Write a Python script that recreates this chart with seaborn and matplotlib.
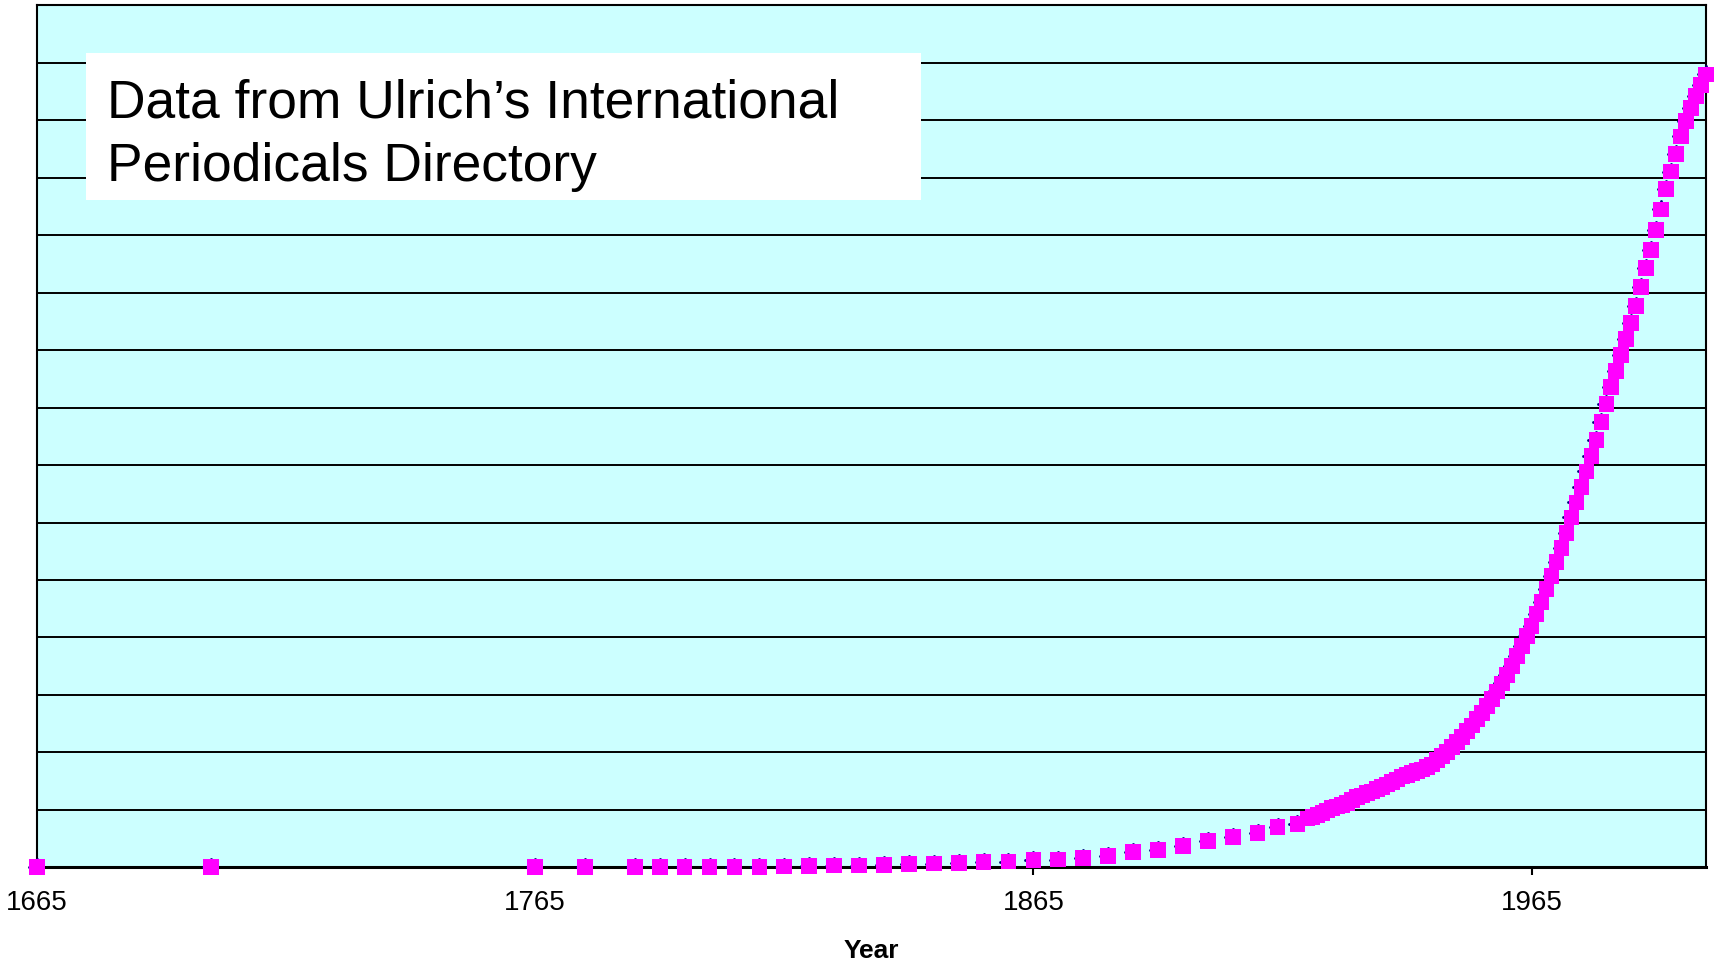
import numpy as np
import pandas as pd
import seaborn as sns
import matplotlib
matplotlib.use("Agg")
import matplotlib.pyplot as plt
from matplotlib.patches import Rectangle
from matplotlib.transforms import offset_copy

# Number of periodicals (thousands)
years_early = [1665, 1700, 1765, 1775, 1785, 1790, 1795, 1800, 1805, 1810, 1815,
               1820, 1825, 1830, 1835, 1840, 1845, 1850, 1855, 1860, 1865, 1870,
               1875, 1880, 1885, 1890, 1895, 1900, 1905, 1910, 1914, 1918]
counts_early = [0.001, 0.002, 0.005, 0.01, 0.02, 0.03, 0.04, 0.05, 0.07, 0.09, 0.12,
                0.25, 0.3, 0.3, 0.4, 0.6, 0.65, 0.7, 0.95, 1.0, 1.3, 1.35,
                1.65, 2.0, 2.6, 3.0, 3.65, 4.6, 5.3, 6.0, 7.0, 7.5]

years_late = list(range(1920, 2001))
counts_late = [8.5, 8.8, 9.1, 9.5, 9.9, 10.3, 10.6, 10.9, 11.2, 11.7,
               12.2, 12.5, 12.9, 13.2, 13.6, 14.0, 14.4, 14.9, 15.3, 15.8,
               16.1, 16.4, 16.7, 17.0, 17.4, 17.9, 18.7, 19.4, 20.1, 20.9,
               21.8, 22.7, 23.7, 24.7, 25.8, 26.9, 28.1, 29.3, 30.6, 32.0,
               33.5, 35.0, 36.8, 38.5, 40.2, 42.0, 44.1, 46.2, 48.4, 50.7,
               53.1, 55.6, 58.2, 60.9, 63.5, 66.2, 68.9, 71.6, 74.4, 77.5,
               80.6, 83.6, 86.4, 89.2, 92.0, 94.7, 97.7, 101.0, 104.3, 107.5,
               110.9, 114.5, 118.0, 121.1, 124.2, 127.2, 129.9, 132.1, 134.3, 136.2,
               138.0]

x_ticks = [1665, 1765, 1865, 1965]
y_grid = list(range(10, 150, 10))
note_lines = ["Data from Ulrich\u2019s International", "Periodicals Directory"]

df = pd.DataFrame({"Year": years_early + years_late,
                   "Periodicals": counts_early + counts_late})

sns.set_style("white")
plt.rcParams['font.family'] = ['Liberation Sans', 'DejaVu Sans']
plt.rcParams['text.color'] = 'black'
plt.rcParams['axes.labelcolor'] = 'black'
plt.rcParams['xtick.color'] = 'black'
plt.rcParams['xtick.labelcolor'] = 'black'

fig = plt.figure(figsize=(17.17, 9.63), dpi=100)
ax = fig.add_axes([0.0215, 0.0994, 0.9721, 0.8949])
ax.set_facecolor('#CCFFFF')

# horizontal grid
for g in y_grid:
    ax.axhline(g, color='black', lw=1.4, zorder=1)

# little navy specks peeking out of each marker
up = offset_copy(ax.transData, fig=fig, x=0, y=8, units='dots')
left = offset_copy(ax.transData, fig=fig, x=-8, y=0, units='dots')
ax.scatter(df["Year"], df["Periodicals"], s=4, color='#000080', marker='o',
           transform=up, zorder=3, clip_on=False, linewidths=0)
ax.scatter(df["Year"], df["Periodicals"], s=4, color='#000080', marker='o',
           transform=left, zorder=3, clip_on=False, linewidths=0)

sns.scatterplot(data=df, x="Year", y="Periodicals", marker='s', s=128,
                color='#FF00FF', edgecolor='none', ax=ax, zorder=4,
                clip_on=False, legend=False)

ax.set_xlim(1665, 2000)
ax.set_ylim(0, 150)
ax.set_xticks(x_ticks)
ax.set_xticklabels([str(t) for t in x_ticks], fontsize=20, color='black')
ax.set_yticks([])
ax.tick_params(axis='x', direction='out', length=6, width=1.5, pad=10,
               color='black', bottom=True)
ax.set_xlabel('Year', fontsize=19, fontweight='bold', labelpad=17, color='black')
ax.set_ylabel('')

for side in ['left', 'top', 'right']:
    ax.spines[side].set_color('black')
    ax.spines[side].set_linewidth(1.5)
ax.spines['bottom'].set_color('black')
ax.spines['bottom'].set_linewidth(2.2)

# white note box
ax.add_patch(Rectangle((0.0297, 0.7743), 0.5, 0.171, transform=ax.transAxes,
                       facecolor='white', edgecolor='none', zorder=5))
ax.text(0.0418, 0.8706, note_lines[0], transform=ax.transAxes, fontsize=38.4,
        va='baseline', ha='left', zorder=6, color='black')
ax.text(0.0418, 0.7967, note_lines[1], transform=ax.transAxes, fontsize=38.4,
        va='baseline', ha='left', zorder=6, color='black')

fig.savefig('out.png', dpi=100)
